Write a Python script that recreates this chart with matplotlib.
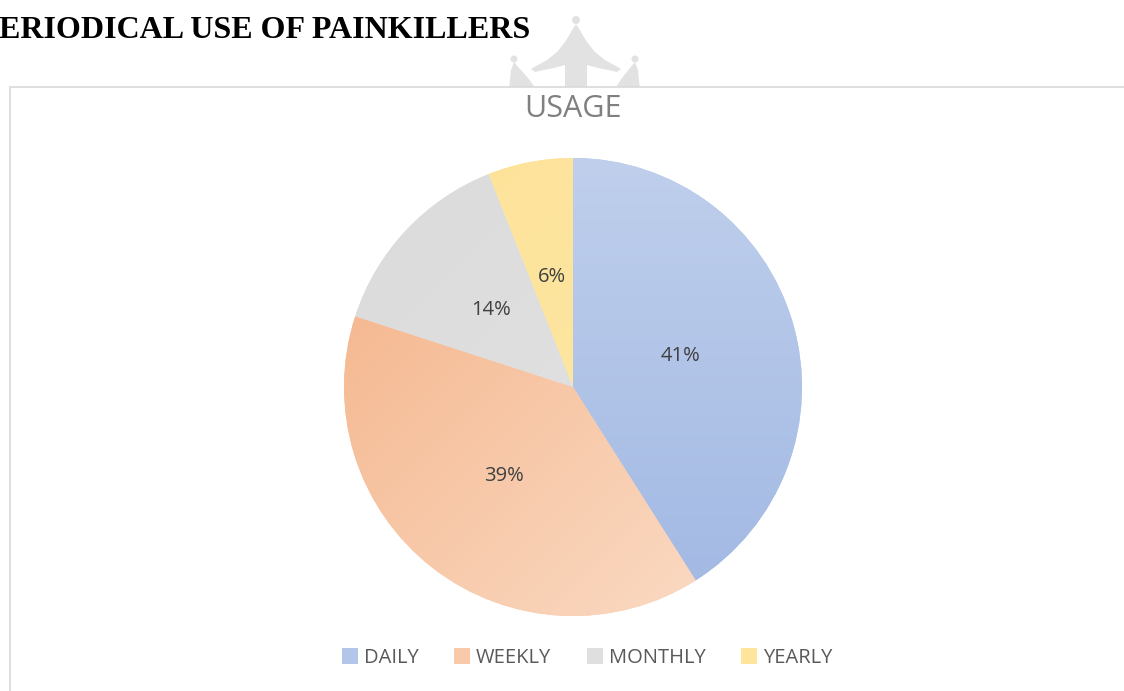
import numpy as np
import matplotlib
matplotlib.use("Agg")
import matplotlib.pyplot as plt
from matplotlib.patches import Polygon, Circle, Rectangle
from matplotlib.colors import to_rgb

# ---- data ----
categories = ["DAILY", "WEEKLY", "MONTHLY", "YEARLY"]
values = [41, 39, 14, 6]
chart_title = "USAGE"
doc_heading = "ERIODICAL USE OF PAINKILLERS"

# ---- styles ----
base_colors = ["#b3c6ea", "#f8caa9", "#dfdfdf", "#fee59b"]
grad = {
    0: ("#bfcfec", "#a1b8e3", (0.0, -1.0)),   # light top -> darker bottom
    1: ("#f5b890", "#fad8c0", (0.7, -0.7)),   # darker upper-left -> lighter lower-right
    2: ("#dcdcdc", "#e3e3e3", (0.7, -0.7)),
    3: ("#fde39a", "#fee8a6", (0.7, -0.7)),
}
font_sans = ["Open Sans", "DejaVu Sans"]

W, H = 1124, 691
fig = plt.figure(figsize=(W / 100, H / 100), dpi=100)
ax = fig.add_axes([0, 0, 1, 1])
ax.set_xlim(0, W)
ax.set_ylim(0, H)
ax.set_aspect("equal")
ax.axis("off")

def Y(py):
    return H - py

def poly(pts, **kw):
    return Polygon([(x, Y(y)) for x, y in pts], closed=True, **kw)

# watermark (faint crown/tent logo)
wm = "#e2e2e2"
spire = [(576, 24), (571, 32), (565, 42), (557, 52), (547, 60), (538, 65), (531, 69),
         (535, 72), (544, 70), (554, 68), (565, 65), (565, 90), (587, 90), (587, 65),
         (598, 68), (608, 70), (617, 72), (621, 69), (614, 65), (605, 60), (595, 52),
         (587, 42), (581, 32)]
ax.add_patch(poly(spire, fc=wm, ec="none", zorder=0))
ax.add_patch(Circle((576, Y(20)), 4, fc=wm, ec="none", zorder=0))
ax.add_patch(poly([(514, 62), (511, 70), (509, 90), (537, 90), (528, 78), (519, 68)],
                  fc=wm, ec="none", zorder=0))
ax.add_patch(Circle((514, Y(59)), 3.5, fc=wm, ec="none", zorder=0))
ax.add_patch(poly([(635, 62), (630, 68), (622, 78), (614, 90), (640, 90), (638, 70)],
                  fc=wm, ec="none", zorder=0))
ax.add_patch(Circle((635, Y(59)), 3.5, fc=wm, ec="none", zorder=0))

# chart box
ax.add_patch(Rectangle((9.5, -5), W + 10, Y(86.5) + 5, fc="white", ec="#d9d9d9", lw=1.2, zorder=1))

# heading
ax.text(-1, Y(30), doc_heading, ha="left", va="center", fontsize=23, fontweight="bold",
        family=["Liberation Serif", "DejaVu Serif"], color="black", zorder=5)

# chart title
ax.text(573, Y(109), chart_title, ha="center", va="center", fontsize=22,
        family=font_sans, color="#808080", zorder=5)

# pie
pcx, pcy, R = 573, Y(387), 229
wedges, texts, autotexts = ax.pie(values, colors=base_colors, startangle=90, counterclock=False,
                                  center=(pcx, pcy), radius=R, autopct="%.0f%%", pctdistance=0.49,
                                  wedgeprops=dict(linewidth=0, zorder=2),
                                  textprops=dict(fontsize=14.5, color="#404040", family=font_sans))
for t in autotexts:
    t.set_zorder(6)

# gradient overlays clipped to wedges
n = 300
xs = np.linspace(pcx - R, pcx + R, n)
ys = np.linspace(pcy - R, pcy + R, n)
XX, YY = np.meshgrid(xs, ys)
for i, w in enumerate(wedges):
    c0, c1, (dx, dy) = grad[i]
    proj = ((XX - pcx) * dx + (YY - pcy) * dy) / R
    t = np.clip((proj + 1) / 2, 0, 1)[..., None]
    img = (1 - t) * np.array(to_rgb(c0)) + t * np.array(to_rgb(c1))
    im = ax.imshow(img, extent=[pcx - R, pcx + R, pcy - R, pcy + R], origin="lower",
                   interpolation="bilinear", zorder=3)
    im.set_clip_path(w)

ax.set_xlim(0, W)
ax.set_ylim(0, H)

# legend
leg = ax.legend(wedges, categories, loc="center", bbox_to_anchor=(587 / W, 1 - 658 / H),
                bbox_transform=fig.transFigure, ncol=4, frameon=False,
                handlelength=0.8, handleheight=0.8, handletextpad=0.3, columnspacing=1.75,
                prop=dict(family=font_sans, size=14.5))
for txt in leg.get_texts():
    txt.set_color("#595959")
leg.set_zorder(6)

fig.savefig("out.png", dpi=100)
